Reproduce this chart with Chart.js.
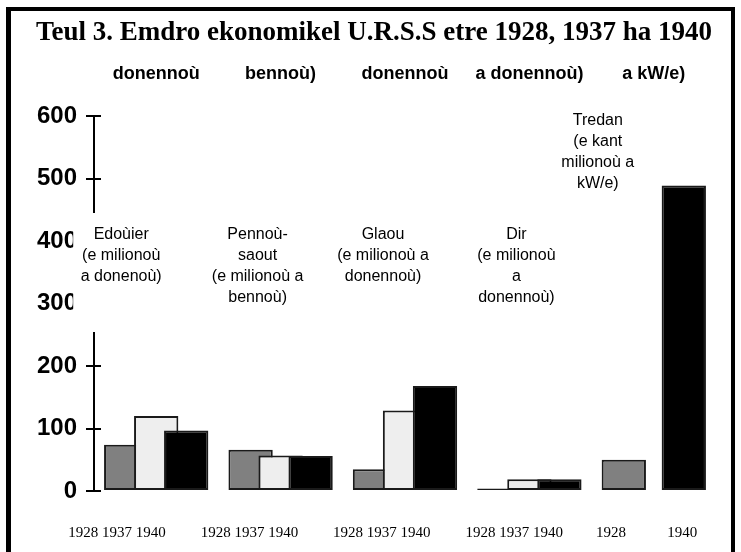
<!DOCTYPE html>
<html>
<head>
<meta charset="utf-8">
<script src="https://cdn.jsdelivr.net/npm/chart.js@4.4.1/dist/chart.umd.min.js"></script>
<style>
  html, body { margin: 0; padding: 0; background: #fff; overflow: hidden; }
  #wrap { position: relative; width: 741px; height: 552px; }
  #frame { position: absolute; left: 6px; top: 7px; right: 6px; height: 600px;
           border: solid #000; border-width: 4px 4px 0 5px; pointer-events: none; }
</style>
</head>
<body>
<div id="wrap">
  <canvas id="myChart" width="741" height="552"></canvas>
  <div id="frame"></div>
</div>
<script>
const years = ['1928', '1937', '1940'];
const topLabels = ['donennoù', 'bennoù)', 'donennoù', 'a donennoù)', 'a kW/e)'];
const groupTitles = [
    ['Edoùier', '(e milionoù', 'a donenoù)'],
    ['Pennoù-', 'saout', '(e milionoù a', 'bennoù)'],
    ['Glaou', '(e milionoù a', 'donennoù)'],
    ['Dir', '(e milionoù', 'a', 'donennoù)'],
    ['Tredan', '(e kant', 'milionoù a', 'kW/e)']
];
const yearLabels = ['1928 1937 1940', '1928 1937 1940', '1928 1937 1940', '1928 1937 1940', '1928           1940'];
const values1928 = [74, 66, 35, 4, 50];
const values1937 = [120, 57, 129, 19, null];
const values1940 = [97, 56, 168, 19, 489];
const yTicks = [0, 100, 200, 300, 400, 500, 600];

// where each group caption sits: shift from its category centre, and first line height
const LABEL_SHIFT = [-35, -23, -22, -13, -56];
const LABEL_TOP = [235, 235, 235, 235, 121];

// bars on the right overlap the ones on their left, so paint datasets first to last
const paintInOrder = {
    id: 'paintInOrder',
    beforeDatasetDraw() { return false; },
    afterDatasetsDraw(chart) {
        chart.getSortedVisibleDatasetMetas().forEach(meta => meta.controller.draw());
    }
};

const overlays = {
    id: 'overlays',
    afterDraw(chart) {
        const { ctx, scales: { x, y } } = chart;
        ctx.save();
        // inner half of the y tick marks
        ctx.strokeStyle = '#000';
        ctx.lineWidth = 2;
        y.ticks.forEach(t => {
            const py = Math.round(y.getPixelForValue(t.value));
            ctx.beginPath();
            ctx.moveTo(x.left, py);
            ctx.lineTo(x.left + 7, py);
            ctx.stroke();
        });
        // captions in white boxes
        ctx.font = '16px "Liberation Sans"';
        ctx.textAlign = 'center';
        ctx.textBaseline = 'middle';
        groupTitles.forEach((lines, i) => {
            const cx = x.getPixelForValue(i) + LABEL_SHIFT[i];
            const top = LABEL_TOP[i];
            ctx.fillStyle = '#fff';
            ctx.fillRect(cx - 48, top - 22, 104, 119);
            ctx.fillStyle = '#000';
            lines.forEach((line, k) => ctx.fillText(line, cx, top + k * 21));
        });
        ctx.restore();
    }
};

const ctx = document.getElementById('myChart').getContext('2d');
new Chart(ctx, {
    type: 'bar',
    data: {
        labels: topLabels,
        datasets: [
            { label: years[0], data: values1928, backgroundColor: '#808080' },
            { label: years[1], data: values1937, backgroundColor: '#eeeeee' },
            { label: years[2], data: values1940, backgroundColor: '#000000' }
        ]
    },
    options: {
        responsive: false,
        animation: false,
        layout: { padding: { left: 32, right: 25, top: 0, bottom: 10 } },
        datasets: {
            bar: {
                categoryPercentage: 0.7235,
                barPercentage: 1.477,
                borderWidth: 2,
                borderColor: '#1a1a1a',
                borderSkipped: false
            }
        },
        plugins: {
            legend: { display: false },
            tooltip: { enabled: false },
            title: {
                display: true,
                text: 'Teul 3. Emdro ekonomikel U.R.S.S etre 1928, 1937 ha 1940',
                color: '#000',
                font: { family: 'Liberation Serif', size: 27, weight: 'bold' },
                padding: { top: 16.8, bottom: 13.8 }
            }
        },
        scales: {
            x: {
                position: 'top',
                offset: true,
                afterFit: axis => { axis.height = 53; },
                grid: { display: false, drawTicks: false },
                border: { display: false },
                ticks: {
                    color: '#000',
                    font: { family: 'Liberation Sans', size: 18, weight: 'bold' },
                    padding: 31,
                    maxRotation: 0,
                    autoSkip: false
                }
            },
            xb: {
                type: 'linear',
                position: 'bottom',
                offset: false,
                min: -0.174,
                max: 4.524,
                afterFit: axis => { axis.height = 51; },
                grid: { display: false, drawTicks: false },
                border: { display: false },
                afterBuildTicks: axis => { axis.ticks = yearLabels.map((_, i) => ({ value: i })); },
                ticks: {
                    color: '#000',
                    font: { family: 'Liberation Serif', size: 15 },
                    padding: 33,
                    maxRotation: 0,
                    autoSkip: false,
                    callback: (value, index) => yearLabels[index]
                }
            },
            y: {
                min: 0,
                max: 600,
                afterFit: axis => { axis.width = 62; },
                afterBuildTicks: axis => { axis.ticks = yTicks.map(v => ({ value: v })); },
                grid: { drawOnChartArea: false, color: '#000', lineWidth: 2, tickLength: 8, tickWidth: 2, tickColor: '#000' },
                border: { display: true, color: '#000', width: 2 },
                ticks: {
                    color: '#000',
                    padding: 9,
                    font: { family: 'Liberation Sans', size: 24, weight: 'bold' }
                }
            }
        }
    },
    plugins: [paintInOrder, overlays]
});
</script>
</body>
</html>
